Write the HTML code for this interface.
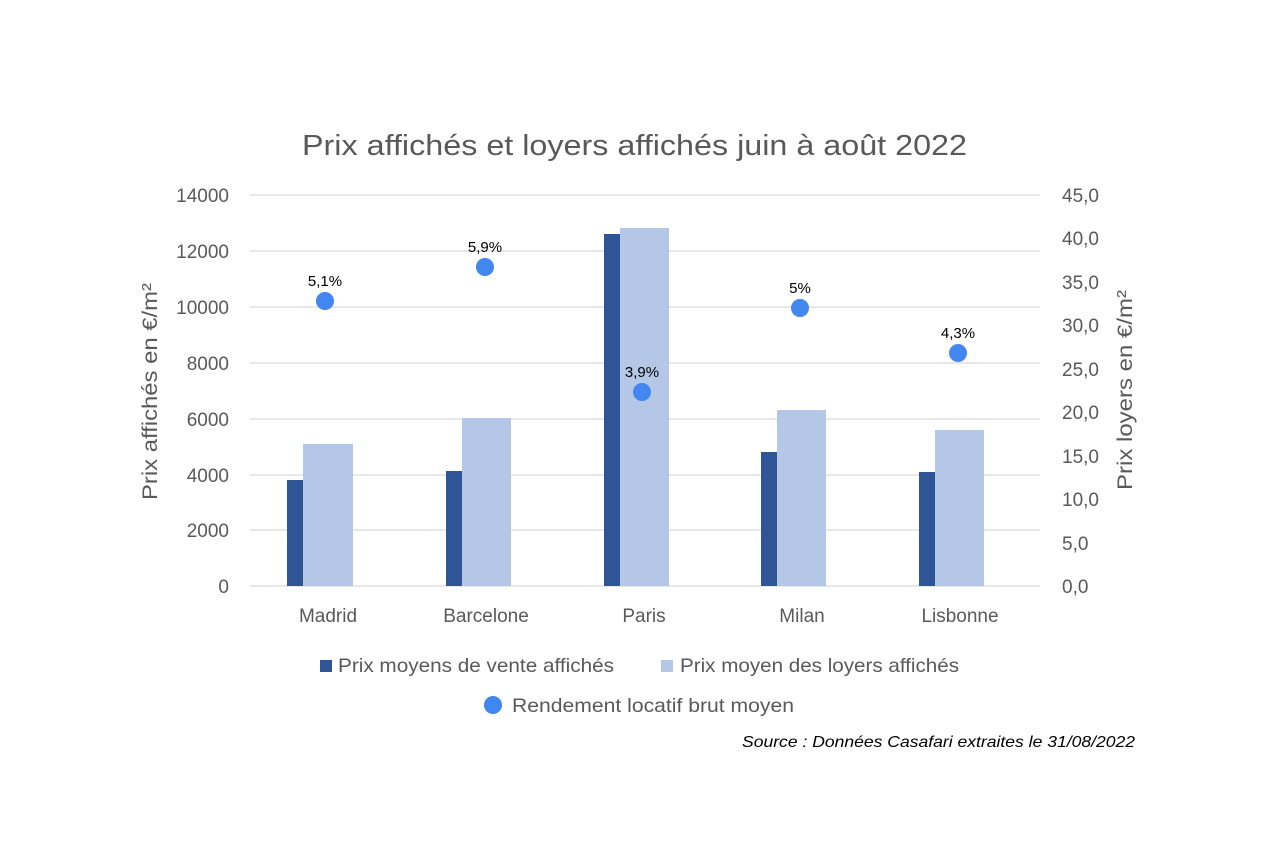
<!DOCTYPE html>
<html><head><meta charset="utf-8"><style>
body{margin:0;background:#fff;}
svg text{font-family:"Liberation Sans",sans-serif;}
</style></head><body>
<svg width="1270" height="851" xmlns="http://www.w3.org/2000/svg">
<rect width="1270" height="851" fill="#fff"/>
<text x="302" y="155" font-size="29" fill="#595959" textLength="665" lengthAdjust="spacingAndGlyphs">Prix affichés et loyers affichés juin à août 2022</text>
<g stroke="#d9d9d9" stroke-width="1.3">
<line x1="250" x2="1040" y1="195" y2="195"/><line x1="250" x2="1040" y1="251" y2="251"/>
<line x1="250" x2="1040" y1="307" y2="307"/><line x1="250" x2="1040" y1="363" y2="363"/>
<line x1="250" x2="1040" y1="419" y2="419"/><line x1="250" x2="1040" y1="475" y2="475"/>
<line x1="250" x2="1040" y1="530" y2="530"/><line x1="250" x2="1040" y1="586" y2="586"/>
</g>
<g font-size="19" fill="#595959" text-anchor="end">
<text x="229" y="202">14000</text><text x="229" y="258">12000</text><text x="229" y="314">10000</text>
<text x="229" y="370">8000</text><text x="229" y="426">6000</text><text x="229" y="482">4000</text>
<text x="229" y="537">2000</text><text x="229" y="593">0</text>
</g>
<g font-size="19" fill="#595959">
<text x="1062" y="202">45,0</text><text x="1062" y="245">40,0</text><text x="1062" y="289">35,0</text>
<text x="1062" y="332">30,0</text><text x="1062" y="376">25,0</text><text x="1062" y="419">20,0</text>
<text x="1062" y="463">15,0</text><text x="1062" y="506">10,0</text><text x="1062" y="550">5,0</text>
<text x="1062" y="593">0,0</text>
</g>
<text transform="translate(157,500) rotate(-90)" font-size="21" fill="#595959" textLength="217" lengthAdjust="spacingAndGlyphs">Prix affichés en €/m²</text>
<text transform="translate(1132,490) rotate(-90)" font-size="21" fill="#595959" textLength="200" lengthAdjust="spacingAndGlyphs">Prix loyers en €/m²</text>
<g fill="#2F5597">
<rect x="287" y="480" width="16" height="106"/><rect x="446" y="471" width="16" height="115"/>
<rect x="604" y="234" width="16" height="352"/><rect x="761" y="452" width="16" height="134"/>
<rect x="919" y="472" width="16" height="114"/>
</g>
<g fill="#B4C7E7">
<rect x="303" y="444" width="50" height="142"/><rect x="462" y="418" width="49" height="168"/>
<rect x="620" y="228" width="49" height="358"/><rect x="777" y="410" width="49" height="176"/>
<rect x="935" y="430" width="49" height="156"/>
</g>
<g fill="#4286F0">
<circle cx="325" cy="301" r="9"/><circle cx="485" cy="267" r="9"/><circle cx="642" cy="392" r="9"/>
<circle cx="800" cy="308" r="9"/><circle cx="958" cy="353" r="9"/>
</g>
<g font-size="15" fill="#000" text-anchor="middle">
<text x="325" y="286">5,1%</text><text x="485" y="252">5,9%</text><text x="642" y="377">3,9%</text>
<text x="800" y="293">5%</text><text x="958" y="338">4,3%</text>
</g>
<g font-size="19" fill="#595959" text-anchor="middle">
<text x="328" y="622">Madrid</text><text x="486" y="622">Barcelone</text><text x="644" y="622">Paris</text>
<text x="802" y="622">Milan</text><text x="960" y="622">Lisbonne</text>
</g>
<rect x="320" y="660" width="12" height="12" fill="#2F5597"/>
<text x="338" y="672" font-size="19.5" fill="#595959" textLength="276" lengthAdjust="spacingAndGlyphs">Prix moyens de vente affichés</text>
<rect x="661" y="660" width="12" height="12" fill="#B4C7E7"/>
<text x="680" y="672" font-size="19.5" fill="#595959" textLength="279" lengthAdjust="spacingAndGlyphs">Prix moyen des loyers affichés</text>
<circle cx="493" cy="705" r="9" fill="#4286F0"/>
<text x="512" y="712" font-size="19.5" fill="#595959" textLength="282" lengthAdjust="spacingAndGlyphs">Rendement locatif brut moyen</text>
<text x="742" y="747" font-size="16" font-style="italic" fill="#000" textLength="393" lengthAdjust="spacingAndGlyphs">Source : Données Casafari extraites le 31/08/2022</text>
</svg>
</body></html>
